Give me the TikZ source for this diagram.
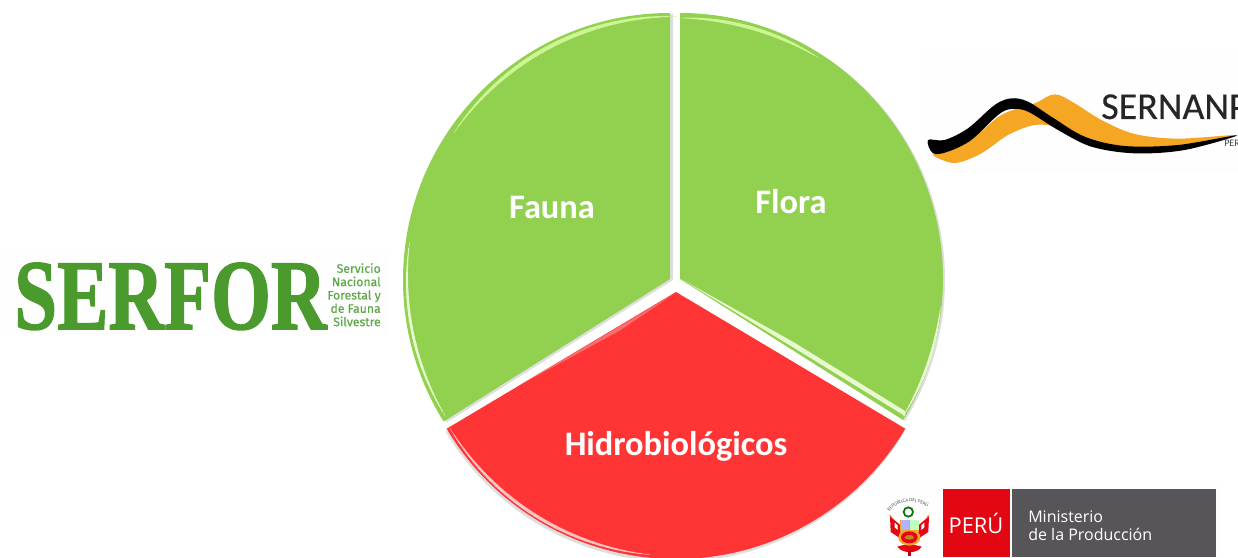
\documentclass[tikz,border=0pt]{standalone}
\usepackage{fontspec}
\usetikzlibrary{decorations.text}
\setmainfont{Carlito}
\newfontfamily\logoserif{Liberation Serif}[BoldFeatures={FakeBold=1.5}]
\newfontfamily\logofira{Fira Sans}[FakeBold=0.5]
\newfontfamily\logosern{Carlito}[FakeBold=0.4]
\newfontfamily\logoopen{Open Sans}
\definecolor{leaf}{HTML}{92D050}
\definecolor{leafhi}{HTML}{CDF592}
\definecolor{leafpale}{HTML}{E9F9CF}
\definecolor{alarm}{HTML}{FF3535}
\definecolor{alarmhi}{HTML}{FFC4C4}
\definecolor{alarmmid}{HTML}{F76C6C}
\definecolor{serforgreen}{HTML}{4A9A2E}
\definecolor{serforlight}{HTML}{5FA84A}
\definecolor{swoosh}{HTML}{F5A623}
\definecolor{perured}{HTML}{E30613}
\definecolor{perugrey}{HTML}{58555A}
\definecolor{offwhite}{HTML}{FEFEFE}
\tikzset{
  wedgeshadow/.style={fill=black,fill opacity=.13,draw=none},
  slicelabel/.style={text=white,font=\bfseries\fontsize{25.8}{30}\selectfont,inner sep=0pt},
  backing/.style={fill=offwhite,draw=none},
  smalllogo/.style={inner sep=0pt,text=serforlight,align=right,font=\logofira\fontsize{9.2}{10}\selectfont},
  perutext/.style={inner sep=0pt,text=white,anchor=west},
}
% tapered bevel along an arc: centre x, centre y, radius, from, to, colour, peak width
\newcommand{\taperarc}[7]{%
  \foreach \st in {0,...,29}{%
    \pgfmathsetmacro{\aone}{#4+(#5-#4)*\st/30}%
    \pgfmathsetmacro{\atwo}{#4+(#5-#4)*(\st+1.15)/30}%
    \pgfmathsetmacro{\wid}{#7*pow(sin(180*(\st+.5)/30),.7)}%
    \draw[#6,line width=\wid pt] (#1,#2) ++(\aone:#3) arc[start angle=\aone,end angle=\atwo,radius=#3];
  }}
\begin{document}
\begin{tikzpicture}[x=.75pt,y=.75pt]
\useasboundingbox (0,0) rectangle (1238,557);
\clip (0,0) rectangle (1238,557);
% logo backings
\fill[backing] (5,221) rectangle (388,307);
\fill[backing] (925,385) rectangle (1238,507);
\fill[backing] (880,0) rectangle (1220,75);
% shadows
\fill[wedgeshadow,shift={(3,-1)}] (670,278) -- (670,544) arc[start angle=90,end angle=212,radius=267] -- cycle;
\fill[wedgeshadow,shift={(2,-1)}] (680,278) -- (680,544) arc[start angle=90,end angle=-32,x radius=263,y radius=266] -- cycle;
\fill[wedgeshadow,shift={(-1,-3)}] (676,265) -- ++(210.8:267) arc[start angle=210.8,end angle=329.2,radius=267] -- cycle;
% slices
\fill[leaf] (670,278) -- (670,544) arc[start angle=90,end angle=212,radius=267] -- cycle;
\fill[leaf] (680,278) -- (680,544) arc[start angle=90,end angle=-32,x radius=263,y radius=266] -- cycle;
\fill[alarm] (676,265) -- ++(210.8:267) arc[start angle=210.8,end angle=329.2,radius=267] -- cycle;
% bevels: Fauna
\taperarc{672}{278}{262.5}{89}{146}{leafhi}{3}
\taperarc{672}{278}{265}{172}{211}{leafpale}{2}
% bevels: Flora
\taperarc{680}{278}{261}{90}{58}{leafhi}{2.6}
\taperarc{680}{278}{262}{-6}{-31.5}{leafpale}{1.9}
\fill[leafpale] (682,277.5) -- (795,214) -- (905,146) -- (905,141) -- (795,208.5) -- cycle;
% bevels: Hidrobiologicos
\fill[alarmmid] (674,263) -- (620,231) -- (520,172) -- (620,226.5) -- cycle;
\taperarc{676}{265}{264}{211}{264}{alarmhi}{2.3}
% slice labels
\node[slicelabel] (fauna) at (552,350) {Fauna};
\node[slicelabel] (flora) at (791,355) {Flora};
\node[slicelabel] (hidro) at (676,111) {Hidrobiológicos};
% SERFOR logo
\node[anchor=base west,inner sep=0pt,text=serforgreen] (serfor) at (14,228)
  {\scalebox{.77}[1]{\logoserif\bfseries\fontsize{75}{80}\selectfont SERFOR}};
\node[smalllogo,anchor=north east] (serforsub) at (381,294)
  {Servicio\\Nacional\\Forestal y\\de Fauna\\Silvestre};
% SERNANP logo
\begin{scope}[shift={(918,517)},x=.25pt,y=-.25pt]
\fill[swoosh] plot[smooth cycle,tension=.55] coordinates {
  (45,345) (110,369) (190,340) (270,285) (350,255) (420,262) (520,300) (650,330) (800,322) (957,286)
  (780,296) (650,282) (550,240) (470,190) (410,163) (350,190) (250,225) (160,300) (90,335)};
\fill[black] plot[smooth cycle,tension=.55] coordinates {
  (30,300) (80,300) (150,265) (230,195) (280,175) (330,185) (400,230) (500,290) (620,318) (780,315) (957,286)
  (800,330) (650,340) (520,320) (420,270) (330,215) (280,207) (240,225) (160,300) (90,335) (45,340)};
\end{scope}
\node[anchor=base west,inner sep=0pt,text=black!85] (sernanp) at (1101,438)
  {\logosern\fontsize{28.5}{30}\selectfont SERNANP};
\node[anchor=base west,inner sep=0pt,text=black!75] (sernanpsub) at (1224,410)
  {\fontsize{7.5}{8}\selectfont PERÚ};
% Ministerio logo
\fill[perured] (942.7,0) rectangle (1010,67.7);
\fill[perugrey] (1012,0) rectangle (1215.7,67.7);
\node[perutext,anchor=center] (peru) at (976,34) {\logoopen\fontsize{16.4}{20}\selectfont PERÚ};
\node[perutext,align=left,font=\logoopen\fontsize{12}{13.5}\selectfont] (minis) at (1028,31)
  {Ministerio\\de la Producción};
% coat of arms
\begin{scope}[shift={(880,69)},x=.25pt,y=-.25pt]
\fill[swoosh] (26,80) -- (36,84) -- (34,92) -- cycle;
\fill[swoosh] (150,80) -- (140,84) -- (142,92) -- cycle;
\fill[perured] (30,85) -- (62,112) -- (62,152) -- (32,132) -- cycle;
\fill[perured] (147,85) -- (115,112) -- (115,152) -- (145,132) -- cycle;
\fill[white] (44,104) -- (53,112) -- (53,126) -- (44,118) -- cycle;
\fill[white] (133,104) -- (124,112) -- (124,126) -- (133,118) -- cycle;
\fill[perured] (52,176) .. controls (75,168) and (100,168) .. (125,176) .. controls (112,198) and (68,198) .. (52,176) -- cycle;
\fill[perured!80!black] (83,188) rectangle (93,203);
\fill[swoosh] (88,148) ellipse[x radius=33,y radius=25];
\fill[perured] (88,148) ellipse[x radius=25,y radius=18];
\fill[swoosh!80!black] (88,148) ellipse[x radius=14,y radius=7];
\fill[swoosh] (60,95) rectangle (118,128);
\fill[blue!30!white] (62,97) rectangle (88,126);
\fill[green!25!white] (90,97) rectangle (116,126);
\draw[green!45!black,line width=1.3] (85,72) circle[radius=14];
\end{scope}
\coordinate (arcleft) at (886.5,40);
\coordinate (arcright) at (932,46);
\path[postaction={decorate,decoration={text along path,text align=center,
  text={|\fontsize{3.6}{4}\selectfont\color{black!70}|REPÚBLICA DEL PERÚ}}}]
  (arcleft) .. controls (893,58) and (920,60) .. (arcright);
\end{tikzpicture}
\end{document}
